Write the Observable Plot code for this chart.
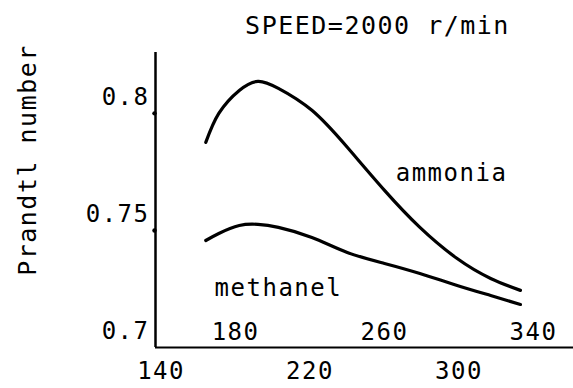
<!DOCTYPE html>
<html><head><meta charset="utf-8">
<script src="https://cdn.jsdelivr.net/npm/d3@7"></script>
<script src="https://cdn.jsdelivr.net/npm/@observablehq/plot@0.6"></script>
<style>
body{margin:0;background:#fff;}
svg text{letter-spacing:1.5px;}
</style></head><body><div id="chart"></div>
<script>
const title = "SPEED=2000 r/min";
const yLabel = "Prandtl number";
const xTicksBelow = [140, 220, 300];
const xTicksAbove = [180, 260, 340];
const yTicks = [0.7, 0.75, 0.8];
const seriesNames = ["ammonia", "methanel"];
const ammoniaT = [164, 171, 182, 192, 203, 221, 240, 260, 279, 299, 317, 333];
const ammoniaPr = [0.7876, 0.8000, 0.8098, 0.8137, 0.8107, 0.8013, 0.7855, 0.7671, 0.7513, 0.7380, 0.7295, 0.7244];
const methanelT = [164, 171, 182, 192, 203, 221, 240, 260, 279, 299, 317, 333];
const methanelPr = [0.7457, 0.7487, 0.7521, 0.7526, 0.7513, 0.7470, 0.7406, 0.7359, 0.7316, 0.7265, 0.7222, 0.7184];
const labelT = [296, 203];
const labelPr = [0.7744, 0.7252];
const xDomain = [137, 361.5];
const yDomain = [0.7, 0.826];

const rows = [
  ...ammoniaT.map((t, i) => ({series: seriesNames[0], T: t, Pr: ammoniaPr[i]})),
  ...methanelT.map((t, i) => ({series: seriesNames[1], T: t, Pr: methanelPr[i]}))
];
const labelRows = seriesNames.map((s, i) => ({name: s, T: labelT[i], Pr: labelPr[i]}));

const chart = Plot.plot({
  width: 573, height: 388,
  marginLeft: 155, marginRight: 0, marginTop: 52, marginBottom: 41,
  x: {domain: xDomain},
  y: {domain: yDomain},
  style: {fontFamily: "'DejaVu Sans Mono', monospace", fontSize: "24px", color: "#000", background: "#fff"},
  marks: [
    Plot.ruleX([xDomain[0]], {y1: yDomain[0], y2: yDomain[1], stroke: "#000", strokeWidth: 2.5}),
    Plot.ruleY([yDomain[0]], {x1: xDomain[0], x2: xDomain[1], stroke: "#000", strokeWidth: 2}),
    Plot.dot(yTicks.slice(1), {x: () => xDomain[0], y: d => d, r: 2.2, fill: "#000", dx: -1}),
    Plot.axisY(yTicks, {label: null, tickSize: 0, tickPadding: 6, dy: -16, fontSize: 24, tickFormat: d => String(d)}),
    Plot.axisX(xTicksBelow, {label: null, anchor: "bottom", tickSize: 0, tickPadding: 14, fontSize: 24, tickFormat: d => String(d)}),
    Plot.axisX(xTicksAbove, {label: null, anchor: "bottom", tickSize: 0, tickPadding: -25, fontSize: 24, tickFormat: d => String(d)}),
    Plot.line(rows, {x: "T", y: "Pr", z: "series", curve: "natural", stroke: "#000", strokeWidth: 3.2}),
    Plot.text(labelRows, {x: "T", y: "Pr", text: "name", fontSize: 24}),
    Plot.text([title], {frameAnchor: "top", textAnchor: "middle", lineAnchor: "middle", dx: 13, dy: -27, fontSize: 25}),
    Plot.text([yLabel], {frameAnchor: "left", textAnchor: "middle", lineAnchor: "middle", rotate: -90, dx: -128, dy: -40, fontSize: 25, style: "letter-spacing:2px"})
  ]
});
document.getElementById("chart").appendChild(chart);
</script></body></html>
